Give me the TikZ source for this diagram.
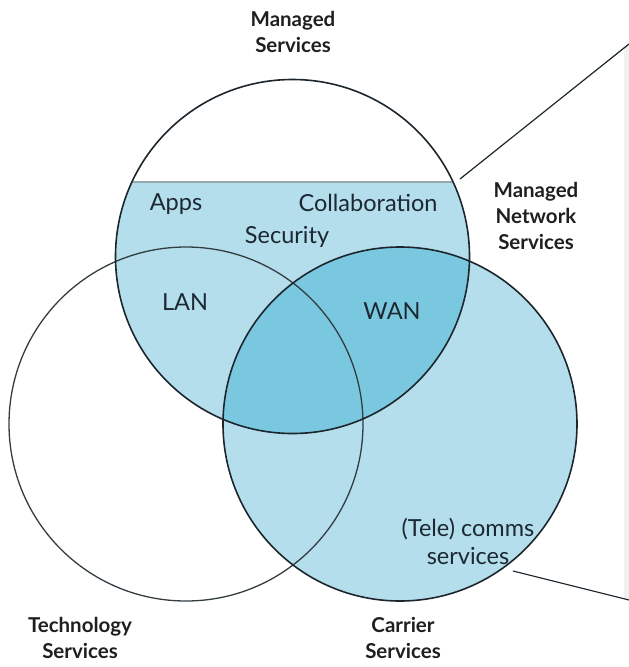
\documentclass[tikz,border=0pt]{standalone}
\usepackage{fontspec}
\setmainfont{Lato}
\usepackage{tikz}
\definecolor{bandblue}{RGB}{180,222,236}
\definecolor{coreblue}{RGB}{122,200,224}
\definecolor{rimgray}{RGB}{150,168,174}
\definecolor{rimdark}{RGB}{28,38,44}
\definecolor{labelink}{RGB}{28,40,50}

\begin{document}
\begin{tikzpicture}[
    x=1pt, y=-1pt,
    ring/.style={draw=rimdark, line width=1.6pt},
    inner ring/.style={draw=rimdark!90, line width=1.3pt},
    band edge/.style={draw=rimgray, line width=1.3pt},
    area/.style={
        font=\fontsize{23.5}{28}\selectfont,
        text=labelink,
        align=center
    },
    title/.style={
        font=\fontsize{20.5}{26}\selectfont\bfseries,
        text=black!88,
        align=center
    },
    callout/.style={draw=rimdark, line width=1.2pt}
]
\useasboundingbox (0,0) rectangle (629,667);

% edge of the side panel
\fill[black!6] (624,46) rectangle (629,600);

\coordinate (ms) at (292.5,256.5);
\coordinate (ts) at (186,424);
\coordinate (cs) at (400,424);

% shaded areas
\fill[bandblue] (cs) circle (177pt);
\begin{scope}
    \clip (0,182) rectangle (629,667);
    \fill[bandblue] (ms) circle (177pt);
    \clip (cs) circle (177pt);
    \fill[coreblue] (ms) circle (177pt);
\end{scope}
\begin{scope}
    \clip (ms) circle (177pt);
    \draw[band edge] (0,182) -- (629,182);
\end{scope}

% rings
\draw[inner ring] (ts) circle (177pt);
\draw[ring] (ms) circle (177pt);
\draw[ring] (cs) circle (177pt);

% callout lines
\coordinate (msedge) at (460,179);
\coordinate (cstop) at (629,44);
\coordinate (csedge) at (513,571);
\coordinate (csbot) at (629,600);
\draw[callout] (msedge) -- (cstop);
\draw[callout] (csedge) -- (csbot);

% circle titles
\node[title] (managed) at (293,32) {Managed\\Services};
\node[title] (network) at (536,216) {Managed\\Network\\Services};
\node[title] (technology) at (80,638) {Technology\\Services};
\node[title] (carrier) at (403,638) {Carrier\\Services};

% area labels
\node[area] (apps) at (176,204) {Apps};
\node[area] (collab) at (368,203) {Collaboration};
\node[area] (security) at (287,237) {Security};
\node[area] (lan) at (185,302) {LAN};
\node[area] (wan) at (392,311) {WAN};
\node[area] (comms) at (468,541) {(Tele) comms\\services};

\end{tikzpicture}
\end{document}
